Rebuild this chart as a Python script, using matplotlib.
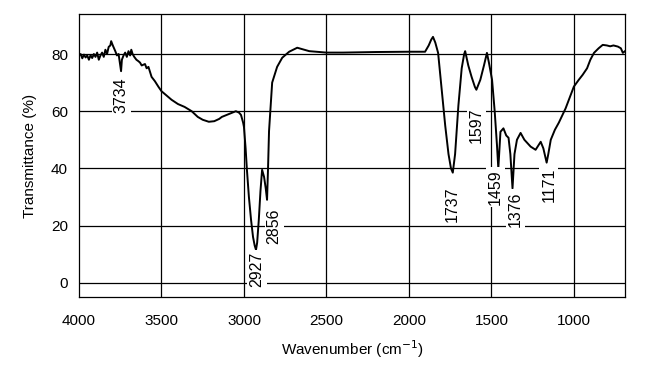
import matplotlib
matplotlib.use("Agg")
import matplotlib.pyplot as plt

plt.rcParams['font.family'] = ['Liberation Sans', 'DejaVu Sans']

wavenumber = [4000, 3990, 3980, 3970, 3960, 3950, 3940, 3930, 3920, 3910, 3900, 3890, 3880, 3870,
              3860, 3850, 3840, 3830, 3820, 3810, 3805, 3795, 3780, 3770, 3760, 3750, 3745, 3740,
              3730, 3720, 3710, 3700, 3690, 3683, 3675, 3665, 3652, 3640, 3630, 3620, 3600, 3590,
              3579, 3560, 3540, 3518, 3500, 3470, 3439, 3400, 3360, 3317, 3280, 3250, 3213, 3180,
              3150, 3134, 3100, 3070, 3049, 3030, 3018, 3005, 3000, 2990, 2982, 2970, 2957, 2945,
              2935, 2927, 2920, 2910, 2900, 2890, 2878, 2868, 2860, 2854, 2848, 2829, 2799, 2768,
              2726, 2677, 2604, 2500, 2400, 2200, 2000, 1902, 1880, 1865, 1854, 1840, 1823,
              1800, 1780, 1760, 1745, 1734, 1720, 1700, 1680, 1665, 1659, 1640, 1620, 1600, 1591,
              1567, 1545, 1527, 1515, 1496, 1480, 1466, 1458, 1445, 1427, 1410, 1396, 1385, 1372,
              1360, 1345, 1323, 1300, 1262, 1232, 1215, 1201, 1185, 1165, 1155,
              1140, 1115, 1091, 1050, 1020, 1000, 970, 947, 920, 900, 878, 850, 825, 800, 780, 760,
              733, 715, 703, 690]
transmittance = [79.5, 80, 78.5, 79.8, 78.8, 79.5, 78, 79.6, 78.6, 80, 79, 80.5, 78, 79.5,
                 80.5, 79, 81.5, 80, 82.5, 83, 84.5, 83, 81, 79.5, 80, 76, 74, 78,
                 79.5, 80.5, 79, 81, 79.5, 81.5, 80, 79, 78, 77.5, 77, 76, 76.5, 75,
                 75.5, 72, 70.5, 68.5, 67, 65.5, 64, 62.5, 61.5, 60, 58, 57, 56.3, 56.5,
                 57.3, 58, 58.8, 59.5, 60, 59.5, 58.7, 56, 54.5, 47, 39.5, 30, 22, 16,
                 13, 11.5, 14, 22, 32, 39.5, 37, 33, 29, 40, 53, 70, 75.5, 78.7,
                 80.8, 82.2, 81, 80.5, 80.5, 80.7, 80.8, 80.8, 83, 85, 86, 84, 80.4,
                 67, 55, 45, 40, 38.5, 45, 62, 75, 80, 81, 76, 72, 68.5, 67.5,
                 71, 76, 80.4, 77, 71, 60, 48, 40, 52.8, 54, 51.5, 50.7, 45, 33,
                 45, 50, 52.4, 50, 47.6, 46.5, 48, 49.3, 47, 42, 45,
                 50, 53.5, 56, 61, 65.5, 68.6, 71, 72.7, 75, 78, 80.4, 82, 83.2, 83, 82.7, 83,
                 82.6, 82, 80.4, 81]

peak_labels = ["3734", "2927", "2856", "1737", "1597", "1459", "1376", "1171"]
peak_x = [3744, 2921, 2817, 1735, 1591, 1476, 1354, 1152]
peak_y = [65.7, 4.5, 19.8, 27.6, 55, 33.4, 25.7, 34.3]

x_ticks = [4000, 3500, 3000, 2500, 2000, 1500, 1000]
y_ticks = [0, 20, 40, 60, 80]

fig = plt.figure(figsize=(6.48, 3.82), dpi=100)
ax = fig.add_axes([79/648, 1 - 297/382, (625 - 79)/648, (297 - 14)/382])

for yv in y_ticks:
    ax.axhline(yv, color='black', lw=0.9, zorder=1)
for xv in x_ticks[1:]:
    ax.axvline(xv, color='black', lw=0.9, zorder=1)

ax.plot(wavenumber, transmittance, color='black', lw=1.4, zorder=2)

for lab, px, py in zip(peak_labels, peak_x, peak_y):
    ax.text(px, py, lab, rotation=90, ha='center', va='center', fontsize=11.5,
            bbox=dict(facecolor='white', edgecolor='none', pad=1.5), zorder=3)

ax.set_xlim(4000, 690)
ax.set_ylim(-5, 94)
ax.set_xticks(x_ticks)
ax.set_yticks(y_ticks)
ax.tick_params(length=0, labelsize=11)
ax.tick_params(axis='x', pad=12)
ax.tick_params(axis='y', pad=8)
for s in ax.spines.values():
    s.set_linewidth(0.9)
ax.set_xlabel('Wavenumber (cm$^{-1}$)', fontsize=11, labelpad=8)
ax.set_ylabel('Transmittance (%)', fontsize=11, labelpad=10)

fig.savefig('out.png', dpi=100)
